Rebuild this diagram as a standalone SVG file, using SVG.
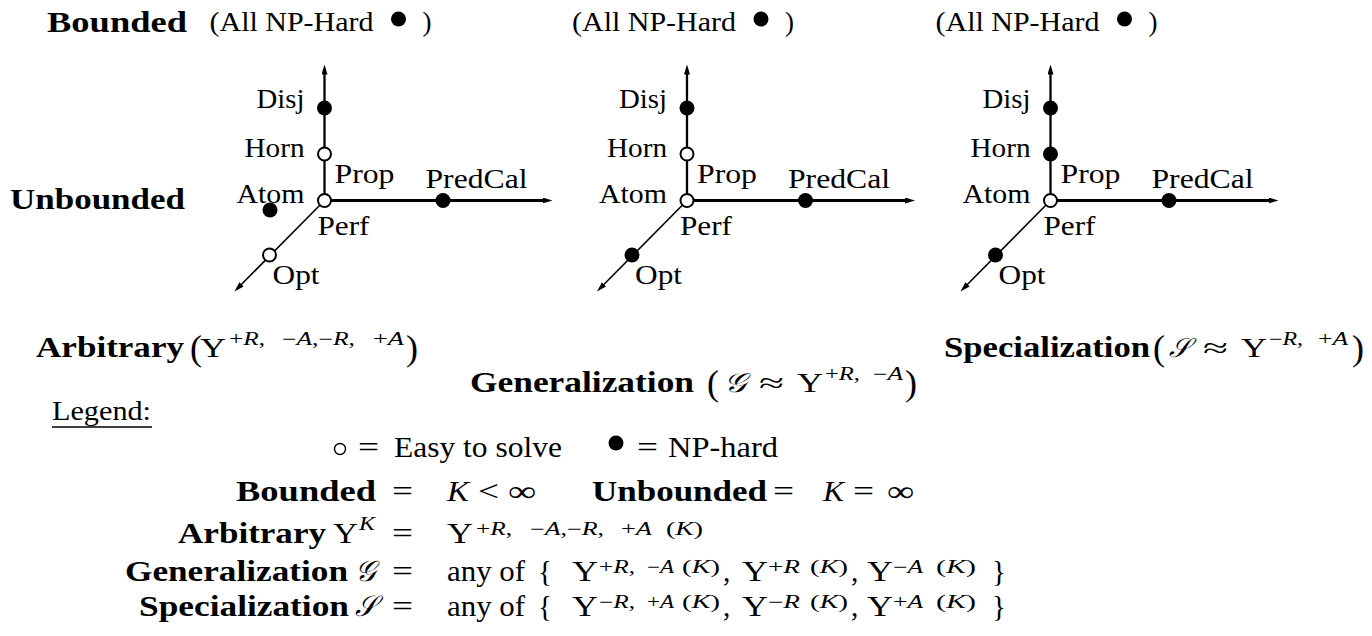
<svg xmlns="http://www.w3.org/2000/svg" width="1372" height="636" viewBox="0 0 1372 636">
  <style>
    text { font-family: "Liberation Serif", "Times New Roman", serif; font-size: 27px; fill: #000; }
    .b { font-weight: bold; font-size: 29px; }
    .lg { font-size: 29px; }
    .sup { font-size: 18px; }
    .i { font-style: italic; }
    .par { font-size: 36px; }
    .cal { font-family: "DejaVu Serif", "Noto Sans", serif; font-style: italic; }
    .axis { stroke: #000; fill: none; }
    .v { stroke-width: 2.3; }
    .h { stroke-width: 3; }
    .d { stroke-width: 1.6; }
    .hard { fill: #000; }
    .easy { fill: #fff; stroke: #000; stroke-width: 2; }
  </style>
  <defs>
    <marker id="arrow" markerUnits="userSpaceOnUse" markerWidth="12" markerHeight="8" refX="2" refY="3" orient="auto">
      <path d="M0,0 L10,3 L0,6 z" fill="#000"/>
    </marker>
  </defs>

  <!-- row headings -->
  <g id="headings">
    <text class="b" x="47" y="32" textLength="140" lengthAdjust="spacingAndGlyphs">Bounded</text>
    <text class="b" x="10" y="209" textLength="175" lengthAdjust="spacingAndGlyphs">Unbounded</text>
  </g>

  <!-- Arbitrary -->
  <g id="diagram-arbitrary" transform="translate(324.5,200.5)">
    <text x="-115" y="-169.5" textLength="164" lengthAdjust="spacingAndGlyphs">(All NP-Hard</text>
    <circle class="hard" cx="74" cy="-181.5" r="7.5"/>
    <text x="98" y="-169.5">)</text>
    <g class="connectors">
      <line class="axis v" x1="0" y1="0" x2="0" y2="-128" marker-end="url(#arrow)"/>
      <line class="axis h" x1="0" y1="0" x2="220" y2="0" marker-end="url(#arrow)"/>
      <line class="axis d" x1="0" y1="0" x2="-84.4" y2="85.3" marker-end="url(#arrow)"/>
    </g>
    <circle class="hard" cx="0" cy="-92.5" r="7.5"/>
    <circle class="easy" cx="0" cy="-46.5" r="6.5"/>
    <circle class="easy" cx="0" cy="0" r="6.5"/>
    <circle class="hard" cx="118.5" cy="0" r="7.5"/>
    <circle class="hard" cx="-54.5" cy="9.5" r="7.5"/>
    <circle class="easy" cx="-55" cy="54.5" r="6.5"/>
    <text x="-68" y="-92.5" textLength="48" lengthAdjust="spacingAndGlyphs">Disj</text>
    <text x="-80" y="-43.5" textLength="60" lengthAdjust="spacingAndGlyphs">Horn</text>
    <text x="-88" y="2.5" textLength="68" lengthAdjust="spacingAndGlyphs">Atom</text>
    <text x="10" y="-17.5" textLength="60" lengthAdjust="spacingAndGlyphs">Prop</text>
    <text x="101" y="-12.5" textLength="102" lengthAdjust="spacingAndGlyphs">PredCal</text>
    <text x="-7" y="34" textLength="52" lengthAdjust="spacingAndGlyphs">Perf</text>
    <text x="-52" y="83" textLength="47" lengthAdjust="spacingAndGlyphs">Opt</text>
  </g>

  <!-- Generalization -->
  <g id="diagram-generalization" transform="translate(687,200.5)">
    <text x="-115" y="-169.5" textLength="164" lengthAdjust="spacingAndGlyphs">(All NP-Hard</text>
    <circle class="hard" cx="74" cy="-181.5" r="7.5"/>
    <text x="98" y="-169.5">)</text>
    <g class="connectors">
      <line class="axis v" x1="0" y1="0" x2="0" y2="-128" marker-end="url(#arrow)"/>
      <line class="axis h" x1="0" y1="0" x2="220" y2="0" marker-end="url(#arrow)"/>
      <line class="axis d" x1="0" y1="0" x2="-84.4" y2="85.3" marker-end="url(#arrow)"/>
    </g>
    <circle class="hard" cx="0" cy="-92.5" r="7.5"/>
    <circle class="easy" cx="0" cy="-46.5" r="6.5"/>
    <circle class="easy" cx="0" cy="0" r="6.5"/>
    <circle class="hard" cx="118.5" cy="0" r="7.5"/>
    <circle class="hard" cx="-55" cy="54.5" r="7.5"/>
    <text x="-68" y="-92.5" textLength="48" lengthAdjust="spacingAndGlyphs">Disj</text>
    <text x="-80" y="-43.5" textLength="60" lengthAdjust="spacingAndGlyphs">Horn</text>
    <text x="-88" y="2.5" textLength="68" lengthAdjust="spacingAndGlyphs">Atom</text>
    <text x="10" y="-17.5" textLength="60" lengthAdjust="spacingAndGlyphs">Prop</text>
    <text x="101" y="-12.5" textLength="102" lengthAdjust="spacingAndGlyphs">PredCal</text>
    <text x="-7" y="34" textLength="52" lengthAdjust="spacingAndGlyphs">Perf</text>
    <text x="-52" y="83" textLength="47" lengthAdjust="spacingAndGlyphs">Opt</text>
  </g>

  <!-- Specialization -->
  <g id="diagram-specialization" transform="translate(1050.5,200.5)">
    <text x="-115" y="-169.5" textLength="164" lengthAdjust="spacingAndGlyphs">(All NP-Hard</text>
    <circle class="hard" cx="74" cy="-181.5" r="7.5"/>
    <text x="98" y="-169.5">)</text>
    <g class="connectors">
      <line class="axis v" x1="0" y1="0" x2="0" y2="-128" marker-end="url(#arrow)"/>
      <line class="axis h" x1="0" y1="0" x2="220" y2="0" marker-end="url(#arrow)"/>
      <line class="axis d" x1="0" y1="0" x2="-84.4" y2="85.3" marker-end="url(#arrow)"/>
    </g>
    <circle class="hard" cx="0" cy="-92.5" r="7.5"/>
    <circle class="hard" cx="0" cy="-46.5" r="7.5"/>
    <circle class="easy" cx="0" cy="0" r="6.5"/>
    <circle class="hard" cx="118.5" cy="0" r="7.5"/>
    <circle class="hard" cx="-55" cy="54.5" r="7.5"/>
    <text x="-68" y="-92.5" textLength="48" lengthAdjust="spacingAndGlyphs">Disj</text>
    <text x="-80" y="-43.5" textLength="60" lengthAdjust="spacingAndGlyphs">Horn</text>
    <text x="-88" y="2.5" textLength="68" lengthAdjust="spacingAndGlyphs">Atom</text>
    <text x="10" y="-17.5" textLength="60" lengthAdjust="spacingAndGlyphs">Prop</text>
    <text x="101" y="-12.5" textLength="102" lengthAdjust="spacingAndGlyphs">PredCal</text>
    <text x="-7" y="34" textLength="52" lengthAdjust="spacingAndGlyphs">Perf</text>
    <text x="-52" y="83" textLength="47" lengthAdjust="spacingAndGlyphs">Opt</text>
  </g>

  <!-- captions under the diagrams -->
  <g id="caption-arbitrary">
    <text class="b" x="36" y="357" textLength="148" lengthAdjust="spacingAndGlyphs">Arbitrary</text>
    <text class="par" x="190" y="360">(</text>
    <text x="200" y="357" textLength="26" lengthAdjust="spacingAndGlyphs">Υ</text>
    <text class="sup" x="229" y="345" textLength="36" lengthAdjust="spacingAndGlyphs">+<tspan class="i">R</tspan>,</text>
    <text class="sup" x="282" y="345" textLength="73" lengthAdjust="spacingAndGlyphs">−<tspan class="i">A</tspan>,−<tspan class="i">R</tspan>,</text>
    <text class="sup" x="373" y="345" textLength="31" lengthAdjust="spacingAndGlyphs">+<tspan class="i">A</tspan></text>
    <text class="par" x="406" y="360">)</text>
  </g>
  <g id="caption-generalization">
    <text class="b" x="470" y="392" textLength="224" lengthAdjust="spacingAndGlyphs">Generalization</text>
    <text class="par" x="707" y="395">(</text>
    <text class="cal" x="724" y="392" textLength="22" lengthAdjust="spacingAndGlyphs">𝒢</text>
    <text x="759" y="392" textLength="25" lengthAdjust="spacingAndGlyphs">≈</text>
    <text x="797" y="392" textLength="26" lengthAdjust="spacingAndGlyphs">Υ</text>
    <text class="sup" x="825" y="380" textLength="35" lengthAdjust="spacingAndGlyphs">+<tspan class="i">R</tspan>,</text>
    <text class="sup" x="873" y="380" textLength="30" lengthAdjust="spacingAndGlyphs">−<tspan class="i">A</tspan></text>
    <text class="par" x="905" y="395">)</text>
  </g>
  <g id="caption-specialization">
    <text class="b" x="944" y="357" textLength="206" lengthAdjust="spacingAndGlyphs">Specialization</text>
    <text class="par" x="1153" y="360">(</text>
    <text class="cal" x="1169" y="357" textLength="21" lengthAdjust="spacingAndGlyphs">𝒮</text>
    <text x="1203" y="357" textLength="25" lengthAdjust="spacingAndGlyphs">≈</text>
    <text x="1241" y="357" textLength="26" lengthAdjust="spacingAndGlyphs">Υ</text>
    <text class="sup" x="1269" y="345" textLength="34" lengthAdjust="spacingAndGlyphs">−<tspan class="i">R</tspan>,</text>
    <text class="sup" x="1318" y="345" textLength="30" lengthAdjust="spacingAndGlyphs">+<tspan class="i">A</tspan></text>
    <text class="par" x="1352" y="360">)</text>
  </g>

  <!-- legend -->
  <g id="legend">
    <text x="52" y="420" textLength="99" lengthAdjust="spacingAndGlyphs">Legend:</text>
    <line x1="52" y1="427" x2="152" y2="427" stroke="#000" stroke-width="1.6"/>

    <circle cx="340" cy="449" r="5.5" fill="none" stroke="#000" stroke-width="1.4"/>
    <text class="lg" x="358" y="457" textLength="21" lengthAdjust="spacingAndGlyphs">=</text>
    <text class="lg" x="394" y="457" textLength="168" lengthAdjust="spacingAndGlyphs">Easy to solve</text>
    <circle class="hard" cx="616" cy="443" r="7.5"/>
    <text class="lg" x="637" y="457" textLength="21" lengthAdjust="spacingAndGlyphs">=</text>
    <text class="lg" x="668" y="457" textLength="110" lengthAdjust="spacingAndGlyphs">NP-hard</text>

    <text class="b" x="236" y="501" textLength="140" lengthAdjust="spacingAndGlyphs">Bounded</text>
    <text class="lg" x="392" y="501" textLength="21" lengthAdjust="spacingAndGlyphs">=</text>
    <text class="lg i" x="447" y="501" textLength="22" lengthAdjust="spacingAndGlyphs">K</text>
    <text class="lg" x="478" y="501" textLength="21" lengthAdjust="spacingAndGlyphs">&lt;</text>
    <text class="lg" x="508" y="501" textLength="28" lengthAdjust="spacingAndGlyphs">∞</text>
    <text class="b" x="592" y="501" textLength="175" lengthAdjust="spacingAndGlyphs">Unbounded</text>
    <text class="lg" x="773" y="501" textLength="21" lengthAdjust="spacingAndGlyphs">=</text>
    <text class="lg i" x="823" y="501" textLength="21" lengthAdjust="spacingAndGlyphs">K</text>
    <text class="lg" x="853" y="501" textLength="21" lengthAdjust="spacingAndGlyphs">=</text>
    <text class="lg" x="887" y="501" textLength="27" lengthAdjust="spacingAndGlyphs">∞</text>

    <text class="b" x="178" y="543" textLength="148" lengthAdjust="spacingAndGlyphs">Arbitrary</text>
    <text class="lg" x="333" y="543" textLength="25" lengthAdjust="spacingAndGlyphs">Υ</text>
    <text class="sup i" x="359" y="530" textLength="16" lengthAdjust="spacingAndGlyphs">K</text>
    <text class="lg" x="392" y="543" textLength="21" lengthAdjust="spacingAndGlyphs">=</text>
    <text class="lg" x="447" y="543" textLength="26" lengthAdjust="spacingAndGlyphs">Υ</text>
    <text class="sup" x="476" y="535" textLength="36" lengthAdjust="spacingAndGlyphs">+<tspan class="i">R</tspan>,</text>
    <text class="sup" x="530" y="535" textLength="74" lengthAdjust="spacingAndGlyphs">−<tspan class="i">A</tspan>,−<tspan class="i">R</tspan>,</text>
    <text class="sup" x="621" y="535" textLength="31" lengthAdjust="spacingAndGlyphs">+<tspan class="i">A</tspan></text>
    <text class="sup" x="666" y="535" textLength="37" lengthAdjust="spacingAndGlyphs">(<tspan class="i">K</tspan>)</text>

    <text class="b" x="125" y="581" textLength="223" lengthAdjust="spacingAndGlyphs">Generalization</text>
    <text class="lg cal" x="355" y="581" textLength="21" lengthAdjust="spacingAndGlyphs">𝒢</text>
    <text class="lg" x="392" y="581" textLength="21" lengthAdjust="spacingAndGlyphs">=</text>
    <text class="lg" x="447" y="581" textLength="78" lengthAdjust="spacingAndGlyphs">any of</text>
    <text class="lg" x="538" y="581">{</text>
    <text class="lg" x="572" y="581" textLength="26" lengthAdjust="spacingAndGlyphs">Υ</text>
    <text class="sup" x="599" y="573" textLength="36" lengthAdjust="spacingAndGlyphs">+<tspan class="i">R</tspan>,</text>
    <text class="sup" x="647" y="573" textLength="27" lengthAdjust="spacingAndGlyphs">−<tspan class="i">A</tspan></text>
    <text class="sup" x="682" y="573" textLength="38" lengthAdjust="spacingAndGlyphs">(<tspan class="i">K</tspan>)</text>
    <text class="lg" x="723" y="581">,</text>
    <text class="lg" x="742" y="581" textLength="26" lengthAdjust="spacingAndGlyphs">Υ</text>
    <text class="sup" x="768" y="573" textLength="32" lengthAdjust="spacingAndGlyphs">+<tspan class="i">R</tspan></text>
    <text class="sup" x="810" y="573" textLength="38" lengthAdjust="spacingAndGlyphs">(<tspan class="i">K</tspan>)</text>
    <text class="lg" x="851" y="581">,</text>
    <text class="lg" x="867" y="581" textLength="26" lengthAdjust="spacingAndGlyphs">Υ</text>
    <text class="sup" x="893" y="573" textLength="30" lengthAdjust="spacingAndGlyphs">−<tspan class="i">A</tspan></text>
    <text class="sup" x="936" y="573" textLength="40" lengthAdjust="spacingAndGlyphs">(<tspan class="i">K</tspan>)</text>
    <text class="lg" x="992" y="581">}</text>

    <text class="b" x="139" y="616" textLength="210" lengthAdjust="spacingAndGlyphs">Specialization</text>
    <text class="lg cal" x="355" y="616" textLength="21" lengthAdjust="spacingAndGlyphs">𝒮</text>
    <text class="lg" x="392" y="616" textLength="21" lengthAdjust="spacingAndGlyphs">=</text>
    <text class="lg" x="447" y="616" textLength="78" lengthAdjust="spacingAndGlyphs">any of</text>
    <text class="lg" x="538" y="616">{</text>
    <text class="lg" x="572" y="616" textLength="26" lengthAdjust="spacingAndGlyphs">Υ</text>
    <text class="sup" x="599" y="608" textLength="36" lengthAdjust="spacingAndGlyphs">−<tspan class="i">R</tspan>,</text>
    <text class="sup" x="647" y="608" textLength="27" lengthAdjust="spacingAndGlyphs">+<tspan class="i">A</tspan></text>
    <text class="sup" x="682" y="608" textLength="38" lengthAdjust="spacingAndGlyphs">(<tspan class="i">K</tspan>)</text>
    <text class="lg" x="723" y="616">,</text>
    <text class="lg" x="742" y="616" textLength="26" lengthAdjust="spacingAndGlyphs">Υ</text>
    <text class="sup" x="768" y="608" textLength="32" lengthAdjust="spacingAndGlyphs">−<tspan class="i">R</tspan></text>
    <text class="sup" x="810" y="608" textLength="38" lengthAdjust="spacingAndGlyphs">(<tspan class="i">K</tspan>)</text>
    <text class="lg" x="851" y="616">,</text>
    <text class="lg" x="867" y="616" textLength="26" lengthAdjust="spacingAndGlyphs">Υ</text>
    <text class="sup" x="893" y="608" textLength="30" lengthAdjust="spacingAndGlyphs">+<tspan class="i">A</tspan></text>
    <text class="sup" x="936" y="608" textLength="40" lengthAdjust="spacingAndGlyphs">(<tspan class="i">K</tspan>)</text>
    <text class="lg" x="992" y="616">}</text>
  </g>
</svg>
